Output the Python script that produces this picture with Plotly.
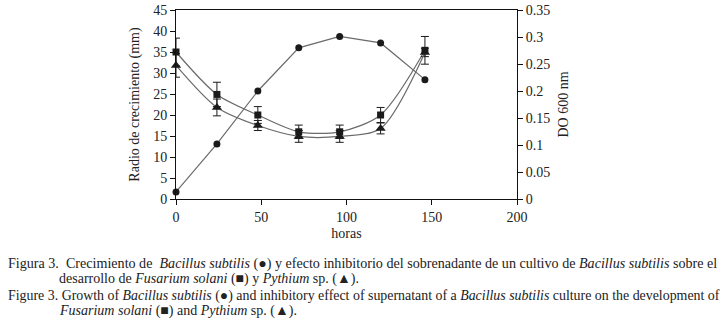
import plotly.graph_objects as go

hours = [0, 24, 48, 72, 96, 120, 146]
bacillus_do = [0.013, 0.102, 0.200, 0.280, 0.301, 0.289, 0.221]
fusarium = [35.0, 24.9, 20.0, 16.0, 16.0, 20.0, 35.4]
fusarium_err = [3.3, 2.9, 2.0, 1.6, 1.6, 1.8, 3.3]
pythium = [31.8, 21.8, 17.5, 14.9, 14.9, 16.8, 34.9]
pythium_err = [2.8, 2.0, 1.2, 1.4, 1.4, 1.3, 1.0]

x_ticks = [0, 50, 100, 150, 200]
y_left_ticks = [0, 5, 10, 15, 20, 25, 30, 35, 40, 45]
y_right_ticks = [0, 0.05, 0.1, 0.15, 0.2, 0.25, 0.3, 0.35]
y_right_labels = ["0", "0.05", "0.1", "0.15", "0.2", "0.25", "0.3", "0.35"]

SERIF = "Liberation Serif"
LINE = "#6a6a6a"
MARK = "#1a1a1a"

fig = go.Figure()

fig.add_trace(go.Scatter(
    x=hours, y=fusarium, mode="lines+markers", cliponaxis=False,
    line=dict(color=LINE, width=1.2, shape="spline", smoothing=0.8),
    marker=dict(symbol="square", size=7, color=MARK),
    error_y=dict(type="data", array=fusarium_err, color=MARK, thickness=1, width=4),
    name="Fusarium solani", yaxis="y"))

fig.add_trace(go.Scatter(
    x=hours, y=pythium, mode="lines+markers", cliponaxis=False,
    line=dict(color=LINE, width=1.2, shape="spline", smoothing=0.8),
    marker=dict(symbol="triangle-up", size=9, color=MARK),
    error_y=dict(type="data", array=pythium_err, color=MARK, thickness=1, width=4),
    name="Pythium sp.", yaxis="y"))

fig.add_trace(go.Scatter(
    x=hours, y=bacillus_do, mode="lines+markers", cliponaxis=False,
    line=dict(color=LINE, width=1.2),
    marker=dict(symbol="circle", size=7, color=MARK),
    name="Bacillus subtilis", yaxis="y2"))

W, H = 728, 327
L, R, T, B = 176, 211, 10, 128
pw = W - L - R
ph = H - T - B

def px(x):
    return (x - L) / pw

def py(y):
    return (H - B - y) / ph

axis_common = dict(
    showgrid=False, zeroline=False, showline=True, linecolor="#111", linewidth=1,
    ticks="outside", ticklen=5, tickcolor="#111", tickwidth=1, automargin=False,
    tickfont=dict(family=SERIF, size=14, color="#222"),
)

fig.update_layout(
    width=W, height=H,
    margin=dict(l=L, r=R, t=T, b=B),
    paper_bgcolor="white", plot_bgcolor="white",
    showlegend=False,
    xaxis=dict(range=[0, 200], tickvals=x_ticks, mirror=True, **axis_common,
               title=dict(text="horas", font=dict(family=SERIF, size=14, color="#222"), standoff=4)),
    yaxis=dict(range=[0, 45], tickvals=y_left_ticks, **axis_common,
               title=dict(text="Radio de crecimiento (mm)", font=dict(family=SERIF, size=14, color="#222"), standoff=10)),
    yaxis2=dict(range=[0, 0.35], tickvals=y_right_ticks, ticktext=y_right_labels,
                overlaying="y", side="right", **axis_common,
                title=dict(text="DO 600 nm", font=dict(family=SERIF, size=14, color="#222"), standoff=8)),
)

captions = [
    (6, 263, 14.1, "Figura 3.  Crecimiento de  <i>Bacillus subtilis</i> (●) y efecto inhibitorio del sobrenadante de un cultivo de <i>Bacillus subtilis</i> sobre el"),
    (57, 279, 14.0, "desarrollo de <i>Fusarium solani</i> (■) y <i>Pythium</i> sp. (▲)."),
    (6, 296, 13.9, "Figure 3. Growth of <i>Bacillus subtilis</i> (●) and inhibitory effect of supernatant of a <i>Bacillus subtilis</i> culture on the development of"),
    (57, 311, 14.0, "<i>Fusarium solani</i> (■) and <i>Pythium</i> sp. (▲)."),
]
for cx, cy, fs, txt in captions:
    fig.add_annotation(x=px(cx), y=py(cy), xref="paper", yref="paper",
                       xanchor="left", yanchor="middle", showarrow=False,
                       text=txt, font=dict(family=SERIF, size=fs, color="#222"), align="left")

fig.write_html("out.html", config={"displayModeBar": False},
               post_script="document.body.style.margin='0';")
